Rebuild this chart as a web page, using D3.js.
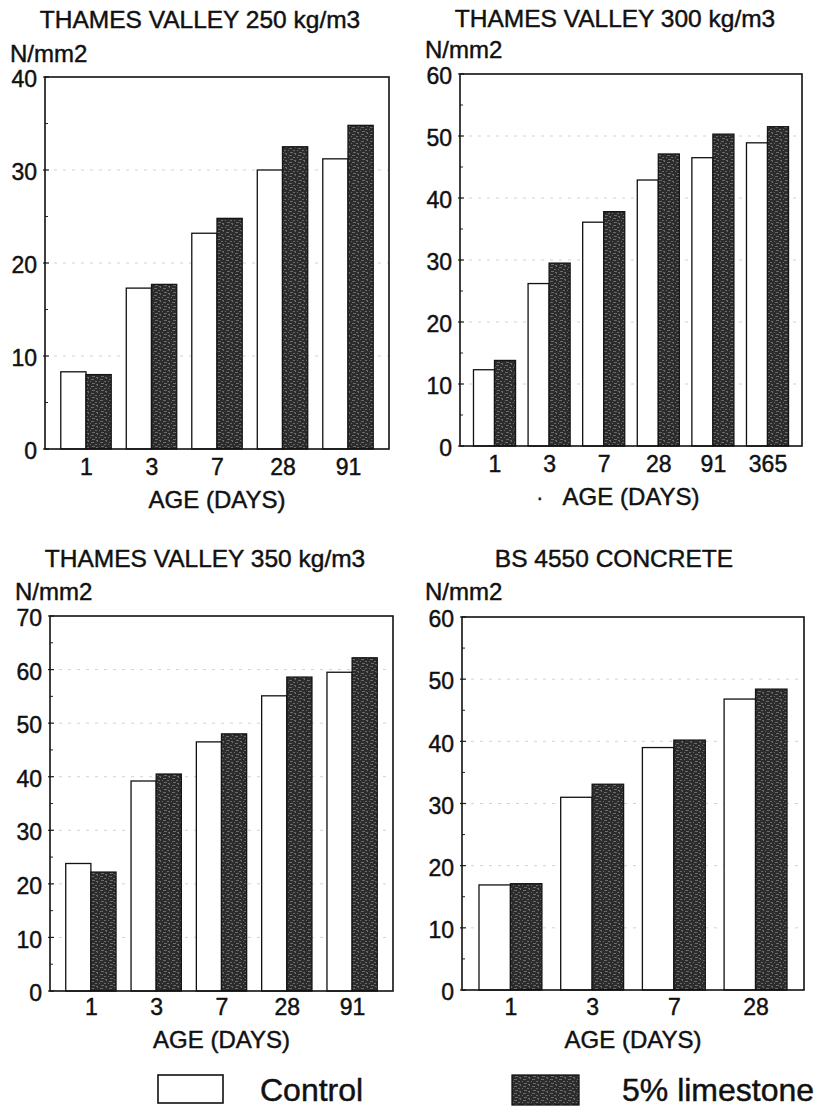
<!DOCTYPE html>
<html>
<head>
<meta charset="utf-8">
<script src="https://cdn.jsdelivr.net/npm/d3@7"></script>
<style>
  html, body { margin: 0; padding: 0; background: #fff; }
  svg { display: block; font-family: "Liberation Sans", Arial, Helvetica, sans-serif; }
  svg text { stroke: #111; stroke-width: 0.45px; fill: #111; }
</style>
</head>
<body>
<svg id="chart" width="823" height="1109"></svg>
<script>
// ---------------- DATA ----------------
const titles = ["THAMES VALLEY 250 kg/m3", "THAMES VALLEY 300 kg/m3", "THAMES VALLEY 350 kg/m3", "BS 4550 CONCRETE"];
const yUnit = "N/mm2";
const xLabel = "AGE (DAYS)";
const seriesNames = ["Control", "5% limestone"];

const ages250 = ["1", "3", "7", "28", "91"];
const control250 = [8.3, 17.3, 23.2, 30.0, 31.2];
const lime250 = [8.0, 17.7, 24.8, 32.5, 34.8];
const yTicks250 = [0, 10, 20, 30, 40];

const ages300 = ["1", "3", "7", "28", "91", "365"];
const control300 = [12.3, 26.2, 36.1, 42.9, 46.5, 48.9];
const lime300 = [13.8, 29.5, 37.8, 47.1, 50.3, 51.5];
const yTicks300 = [0, 10, 20, 30, 40, 50, 60];

const ages350 = ["1", "3", "7", "28", "91"];
const control350 = [23.8, 39.2, 46.5, 55.1, 59.5];
const lime350 = [22.2, 40.5, 48.0, 58.6, 62.2];
const yTicks350 = [0, 10, 20, 30, 40, 50, 60, 70];

const agesBS = ["1", "3", "7", "28"];
const controlBS = [16.9, 31.0, 39.0, 46.8];
const limeBS = [17.1, 33.1, 40.2, 48.4];
const yTicksBS = [0, 10, 20, 30, 40, 50, 60];

// ---------------- LAYOUT ----------------
const panels = [
  { title: titles[0], ages: ages250, control: control250, lime: lime250, ticks: yTicks250,
    L: 45, R: 389, T: 77, B: 449, pad: 0.626, titleX: 200, titleY: 28, unitX: 10, unitY: 62, xTickY: 475, xLabY: 508 },
  { title: titles[1], ages: ages300, control: control300, lime: lime300, ticks: yTicks300,
    L: 460, R: 802, T: 74, B: 446, pad: 0.632, titleX: 615, titleY: 27, unitX: 425, unitY: 58, xTickY: 472, xLabY: 505, dot: true },
  { title: titles[2], ages: ages350, control: control350, lime: lime350, ticks: yTicks350,
    L: 50, R: 393, T: 616, B: 991, pad: 0.626, titleX: 205, titleY: 567, unitX: 15, unitY: 600, xTickY: 1015, xLabY: 1048 },
  { title: titles[3], ages: agesBS, control: controlBS, lime: limeBS, ticks: yTicksBS,
    L: 462, R: 804, T: 617, B: 990, pad: 0.593, titleX: 614, titleY: 567, unitX: 425, unitY: 600, xTickY: 1015, xLabY: 1048 }
];

const svg = d3.select("#chart");

// texture for the dark (limestone) bars
const defs = svg.append("defs");
const pat = defs.append("pattern").attr("id", "speckle").attr("patternUnits", "userSpaceOnUse")
  .attr("width", 9).attr("height", 7);
pat.append("rect").attr("width", 9).attr("height", 7).attr("fill", "#2c2c2c");
[[1,1,3,1],[5,3,2,1],[2,5,3,1],[7,0,1,1],[0,3,1,1],[6,6,2,1]].forEach(d => {
  pat.append("rect").attr("x", d[0]).attr("y", d[1]).attr("width", d[2]).attr("height", d[3]).attr("fill", "#6a6a6a");
});

panels.forEach(p => {
  const g = svg.append("g");
  const x = d3.scalePoint().domain(p.ages).range([p.L, p.R]).padding(p.pad);
  const y = d3.scaleLinear().domain([0, d3.max(p.ticks)]).range([p.B, p.T]);
  const bw = x.step() * 0.385;

  // grid lines
  g.selectAll(".grid").data(p.ticks.slice(1, -1)).join("line")
    .attr("x1", p.L).attr("x2", p.R).attr("y1", d => y(d)).attr("y2", d => y(d))
    .attr("stroke", "#d2d2d2").attr("stroke-width", 1).attr("stroke-dasharray", "3,6");

  // bars
  const data = p.ages.map((a, i) => ({ age: a, c: p.control[i], l: p.lime[i] }));
  g.selectAll(".ctrl").data(data).join("rect")
    .attr("x", d => x(d.age) - bw).attr("y", d => y(d.c))
    .attr("width", bw).attr("height", d => p.B - y(d.c))
    .attr("fill", "#fff").attr("stroke", "#111").attr("stroke-width", 1.3);
  g.selectAll(".lime").data(data).join("rect")
    .attr("x", d => x(d.age)).attr("y", d => y(d.l))
    .attr("width", bw).attr("height", d => p.B - y(d.l))
    .attr("fill", "url(#speckle)").attr("stroke", "#151515").attr("stroke-width", 1.3);

  // y axis (ticks inward, minor ticks)
  const yAxis = d3.axisLeft(y).tickValues(p.ticks).tickSize(0).tickPadding(8).tickFormat(d3.format("d"));
  const ya = g.append("g").attr("transform", `translate(${p.L},0)`).call(yAxis);
  ya.select(".domain").remove();
  ya.selectAll("text").attr("font-size", 23).attr("fill", "#111").attr("dy", "0.42em");
  const minor = d3.range(5, d3.max(p.ticks), 10);
  g.selectAll(".minor").data(minor).join("line")
    .attr("x1", p.L).attr("x2", p.L + 3).attr("y1", d => y(d)).attr("y2", d => y(d))
    .attr("stroke", "#222").attr("stroke-width", 1);
  g.selectAll(".major").data(p.ticks).join("line")
    .attr("x1", p.L - 2).attr("x2", p.L + 4).attr("y1", d => y(d)).attr("y2", d => y(d))
    .attr("stroke", "#222").attr("stroke-width", 1.2);

  // x axis labels
  const xAxis = d3.axisBottom(x).tickSize(0).tickPadding(0);
  const xa = g.append("g").attr("transform", `translate(0,${p.B})`).call(xAxis);
  xa.select(".domain").remove();
  xa.selectAll("text").attr("font-size", 23).attr("fill", "#111")
    .attr("y", p.xTickY - p.B).attr("dy", 0);

  // frame
  g.append("rect").attr("x", p.L).attr("y", p.T).attr("width", p.R - p.L).attr("height", p.B - p.T)
    .attr("fill", "none").attr("stroke", "#111").attr("stroke-width", 1.6);

  // texts
  g.append("text").attr("x", p.titleX).attr("y", p.titleY).attr("text-anchor", "middle")
    .attr("font-size", 24.5).text(p.title);
  g.append("text").attr("x", p.unitX).attr("y", p.unitY)
    .attr("font-size", 24).text(yUnit);
  g.append("text").attr("x", (p.L + p.R) / 2).attr("y", p.xLabY).attr("text-anchor", "middle")
    .attr("font-size", 24).text(xLabel);
  if (p.dot) {
    g.append("text").attr("x", 537).attr("y", p.xLabY - 5).attr("font-size", 20).text(".");
  }
});

// legend
const lg = svg.append("g");
lg.append("rect").attr("x", 158).attr("y", 1075).attr("width", 65).attr("height", 28)
  .attr("fill", "#fff").attr("stroke", "#111").attr("stroke-width", 1.6);
lg.append("text").attr("x", 260).attr("y", 1101).attr("font-size", 32).text(seriesNames[0]);
lg.append("rect").attr("x", 512).attr("y", 1075).attr("width", 67).attr("height", 30)
  .attr("fill", "url(#speckle)").attr("stroke", "#151515").attr("stroke-width", 1.3);
lg.append("text").attr("x", 622).attr("y", 1101).attr("font-size", 32).text(seriesNames[1]);
</script>
</body>
</html>
